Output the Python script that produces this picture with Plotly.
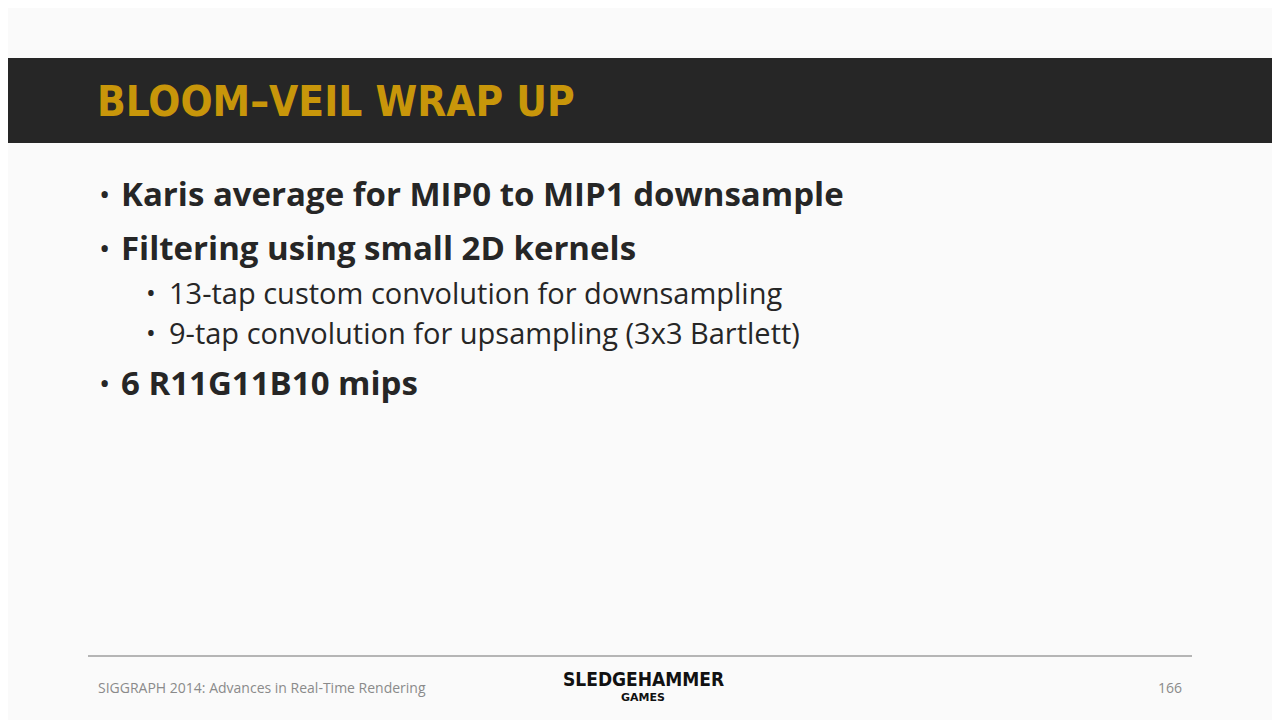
import plotly.graph_objects as go

title = "BLOOM–VEIL WRAP UP"
bullets = ["Karis average for MIP0 to MIP1 downsample",
           "Filtering using small 2D kernels",
           "6 R11G11B10 mips"]
bullet_y = [193, 247, 382]
subs = ["13-tap custom convolution for downsampling",
        "9-tap convolution for upsampling (3x3 Bartlett)"]
sub_y = [292, 332]
footer_left = "SIGGRAPH 2014: Advances in Real-Time Rendering"
page_no = "166"

# the page body adds an 8px offset, so the view is shifted to compensate
fig = go.Figure()
fig.update_layout(
    width=1280, height=720, margin=dict(l=0, r=0, t=0, b=0),
    paper_bgcolor="#fafafa", plot_bgcolor="#fafafa", showlegend=False,
    xaxis=dict(range=[8, 1288], visible=False, fixedrange=True),
    yaxis=dict(range=[728, 8], visible=False, fixedrange=True),
)

# header band
fig.add_shape(type="rect", x0=-20, x1=1300, y0=58, y1=143, fillcolor="#262626", line_width=0, layer="below")
fig.add_annotation(x=95, y=101, text="<b>" + title + "</b>", showarrow=False, xanchor="left", yanchor="middle",
                   font=dict(family="DejaVu Sans Condensed, Liberation Sans Narrow, sans-serif", size=42, color="#c8960a"))

for t, y in zip(bullets, bullet_y):
    fig.add_annotation(x=97, y=y, text="•", showarrow=False, xanchor="left", yanchor="middle",
                       font=dict(family="Open Sans", size=30, color="#262626"))
    fig.add_annotation(x=119, y=y, text="<b>" + t + "</b>", showarrow=False, xanchor="left", yanchor="middle",
                       font=dict(family="Open Sans", size=33, color="#262626"))
for t, y in zip(subs, sub_y):
    fig.add_annotation(x=144, y=y, text="•", showarrow=False, xanchor="left", yanchor="middle",
                       font=dict(family="Open Sans", size=26, color="#262626"))
    fig.add_annotation(x=167, y=y, text=t, showarrow=False, xanchor="left", yanchor="middle",
                       font=dict(family="Open Sans", size=29, color="#262626"))

# footer
fig.add_shape(type="line", x0=88, x1=1192, y0=656, y1=656, line=dict(color="#707070", width=1.2))
fig.add_annotation(x=96, y=687, text=footer_left, showarrow=False, xanchor="left", yanchor="middle",
                   font=dict(family="Open Sans", size=14, color="#8a8a8a"))
fig.add_annotation(x=1184, y=687, text=page_no, showarrow=False, xanchor="right", yanchor="middle",
                   font=dict(family="Open Sans", size=14, color="#8a8a8a"))
fig.add_annotation(x=643, y=679, text="<b>SLEDGEHAMMER</b>", showarrow=False, xanchor="center", yanchor="middle",
                   font=dict(family="DejaVu Sans Condensed, Liberation Sans Narrow", size=19, color="#111111"))
fig.add_annotation(x=643, y=697, text="<b>GAMES</b>", showarrow=False, xanchor="center", yanchor="middle",
                   font=dict(family="DejaVu Sans", size=11, color="#111111"))

fig.write_html("out.html")
